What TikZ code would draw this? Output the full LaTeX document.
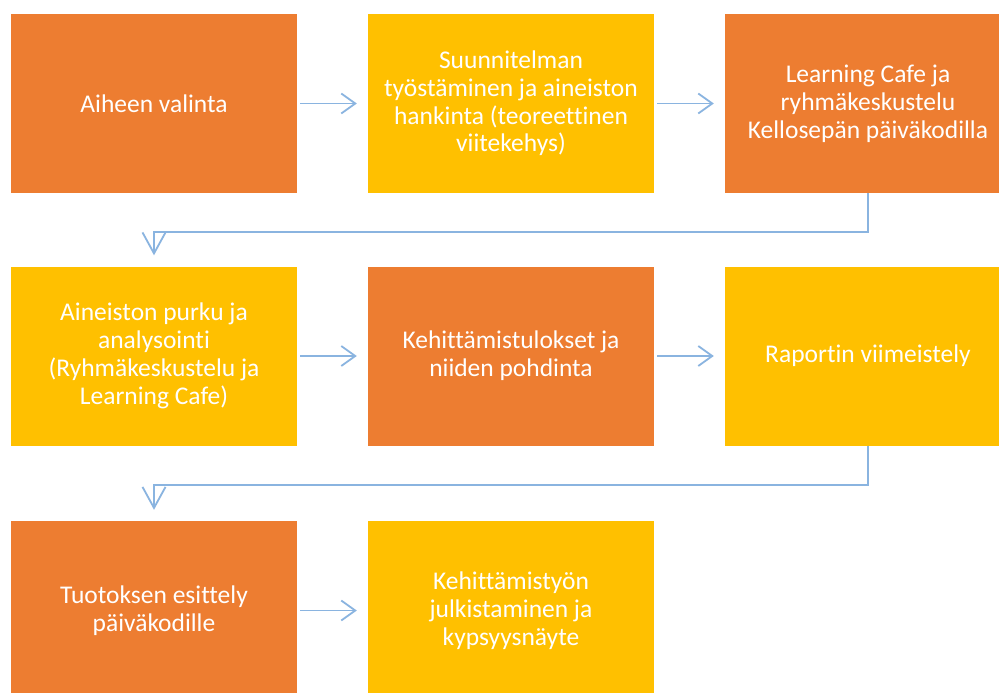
\documentclass[tikz,border=0pt]{standalone}
\usepackage{fontspec}
\setmainfont{Carlito}[Ligatures=NoCommon]
\usetikzlibrary{arrows.meta}
\definecolor{boxorange}{HTML}{ED7D31}
\definecolor{boxyellow}{HTML}{FFC000}
\definecolor{connblue}{HTML}{8AB4E0}
\tikzset{
  stepbox/.style={rectangle, minimum width=286pt, minimum height=179pt, inner sep=0pt,
    text=white, align=center, font=\fontsize{25.5}{27.8}\selectfont, anchor=center},
  orangebox/.style={stepbox, fill=boxorange},
  yellowbox/.style={stepbox, fill=boxyellow},
  conn/.style={draw=connblue, line width=1.8pt, line join=miter},
  htip/.style={-{Straight Barb[length=14pt,width=20pt,line width=1.8pt]}},
  vtip/.style={-{Straight Barb[length=21pt,width=23pt,line width=1.8pt]}}
}
\begin{document}
\begin{tikzpicture}[x=1pt,y=-1pt]
\useasboundingbox (0,0) rectangle (999,693);
\clip (0,0) rectangle (999,693);
\fill[white] (0,0) rectangle (999,693);
% row 1
\node[orangebox] (b1) at (154,103.5) {Aiheen valinta};
\node[yellowbox] (b2) at (511,103.5) {Suunnitelman\\työstäminen ja aineiston\\hankinta (teoreettinen\\viitekehys)};
\node[orangebox] (b3) at (868,103.5) {Learning Cafe ja\\ryhmäkeskustelu\\Kellosepän päiväkodilla};
% row 2
\node[yellowbox] (b4) at (154,356) {Aineiston purku ja\\analysointi\\(Ryhmäkeskustelu ja\\Learning Cafe)};
\node[orangebox] (b5) at (511,356) {Kehittämistulokset ja\\niiden pohdinta};
\node[yellowbox] (b6) at (868,356) {Raportin viimeistely};
% row 3
\node[orangebox] (b7) at (154,610.5) {Tuotoksen esittely\\päiväkodille};
\node[yellowbox] (b8) at (511,610.5) {Kehittämistyön\\julkistaminen ja\\kypsyysnäyte};
% connectors
\draw[conn,htip,shorten <=3pt,shorten >=11pt] (b1.east) -- (b2.west);
\draw[conn,htip,shorten <=3pt,shorten >=11pt] (b2.east) -- (b3.west);
\draw[conn,htip,shorten <=3pt,shorten >=11pt] (b4.east) -- (b5.west);
\draw[conn,htip,shorten <=3pt,shorten >=11pt] (b5.east) -- (b6.west);
\draw[conn,htip,shorten <=3pt,shorten >=11pt] (b7.east) -- (b8.west);
\draw[conn,vtip,shorten >=11pt] (b3.south) -- ++(0,39) -| (b4.north);
\draw[conn,vtip,shorten >=11pt] (b6.south) -- ++(0,39) -| (b7.north);
\end{tikzpicture}
\end{document}
